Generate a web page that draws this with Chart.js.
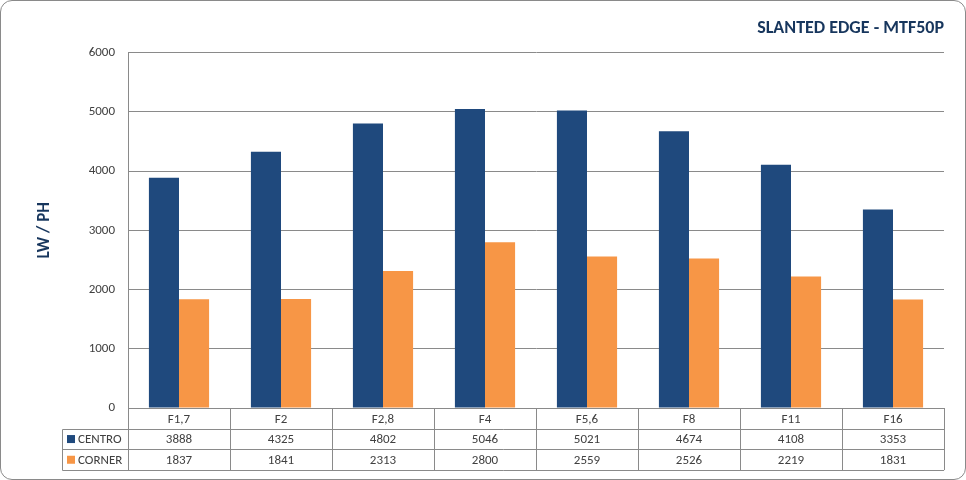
<!DOCTYPE html>
<html>
<head>
<meta charset="utf-8">
<script src="https://cdn.jsdelivr.net/npm/chart.js@4"></script>
<style>
  body { margin: 0; background: #fff; }
  #wrap { position: relative; width: 966px; height: 480px; box-sizing: border-box; border: 1px solid #8a8a8a; border-radius: 12px; overflow: hidden; }
  #chart { position: absolute; left: -1px; top: -1px; }
</style>
</head>
<body>
<div id="wrap"><canvas id="chart" width="966" height="480"></canvas></div>
<script>
const apertures = ['F1,7', 'F2', 'F2,8', 'F4', 'F5,6', 'F8', 'F11', 'F16'];
const centro = [3888, 4325, 4802, 5046, 5021, 4674, 4108, 3353];
const corner = [1837, 1841, 2313, 2800, 2559, 2526, 2219, 1831];
const seriesNames = ['CENTRO', 'CORNER'];
const yTicks = [0, 1000, 2000, 3000, 4000, 5000, 6000];

const FONT = 'Carlito, Calibri, Lato, sans-serif';
const TEXT = '#404040';
const LINE = '#8a8a8a';

// draws the data table under the plot, same as the Excel one
const dataTable = {
    id: 'dataTable',
    afterDraw(chart) {
        const ctx = chart.ctx;
        const x = chart.scales.x;
        const area = chart.chartArea;
        const rowH = 20.7;
        const top = area.bottom;
        const keyLeft = 62;
        const bottom = top + rowH * 3;

        ctx.save();
        ctx.strokeStyle = LINE;
        ctx.lineWidth = 1;
        ctx.beginPath();
        for (let i = 0; i <= apertures.length; i++) {
            const px = Math.round(area.left + (area.right - area.left) * i / apertures.length) + 0.5;
            ctx.moveTo(px, top);
            ctx.lineTo(px, bottom);
        }
        for (let r = 1; r <= 3; r++) {
            const py = Math.round(top + rowH * r) + 0.5;
            ctx.moveTo(keyLeft + 0.5, py);
            ctx.lineTo(area.right, py);
        }
        ctx.moveTo(keyLeft + 0.5, Math.round(top + rowH) + 0.5);
        ctx.lineTo(keyLeft + 0.5, Math.round(bottom) + 0.5);
        ctx.stroke();

        ctx.font = '13px ' + FONT;
        ctx.fillStyle = TEXT;
        ctx.textAlign = 'center';
        ctx.textBaseline = 'middle';
        apertures.forEach((lab, i) => {
            ctx.fillText(lab, x.getPixelForValue(i), top + rowH * 0.5 + 1);
        });
        chart.data.datasets.forEach((ds, d) => {
            const cy = top + rowH * (d + 1.5) + 1;
            ds.data.forEach((v, i) => {
                ctx.fillStyle = TEXT;
                ctx.textAlign = 'center';
                ctx.fillText(String(v), x.getPixelForValue(i), cy);
            });
            ctx.fillStyle = ds.backgroundColor;
            ctx.fillRect(keyLeft + 5, cy - 5, 8, 8);
            ctx.fillStyle = TEXT;
            ctx.textAlign = 'left';
            ctx.fillText(ds.label, keyLeft + 16, cy);
        });
        ctx.restore();
    }
};

new Chart(document.getElementById('chart'), {
    type: 'bar',
    data: {
        labels: apertures,
        datasets: [
            { label: seriesNames[0], data: centro, backgroundColor: '#1F497D' },
            { label: seriesNames[1], data: corner, backgroundColor: '#F79646' }
        ]
    },
    options: {
        responsive: false,
        animation: false,
        layout: { padding: { left: 10, right: 22, top: 9, bottom: 10 } },
        datasets: { bar: { categoryPercentage: 0.59, barPercentage: 1 } },
        plugins: {
            legend: { display: false },
            tooltip: { enabled: false },
            title: {
                display: true,
                text: 'SLANTED EDGE - MTF50P',
                align: 'end',
                color: '#17365D',
                font: { family: FONT, size: 18, weight: 'bold' },
                padding: { top: 9, bottom: 13 }
            }
        },
        scales: {
            x: {
                ticks: { display: false },
                grid: { display: false },
                border: { display: false },
                afterFit(scale) { scale.height = 62; }
            },
            y: {
                min: 0,
                max: 6000,
                afterBuildTicks(scale) { scale.ticks = yTicks.map(v => ({ value: v })); },
                ticks: {
                    color: TEXT,
                    font: { family: FONT, size: 13 },
                    padding: 13,
                    callback: v => String(v)
                },
                grid: { color: LINE, drawTicks: false },
                border: { color: LINE },
                title: {
                    display: true,
                    text: 'LW / PH',
                    color: '#17365D',
                    font: { family: FONT, size: 17, weight: 'bold' },
                    padding: { top: 25, bottom: 0 }
                },
                afterFit(scale) { scale.width = 118; }
            }
        }
    },
    plugins: [dataTable]
});
</script>
</body>
</html>
